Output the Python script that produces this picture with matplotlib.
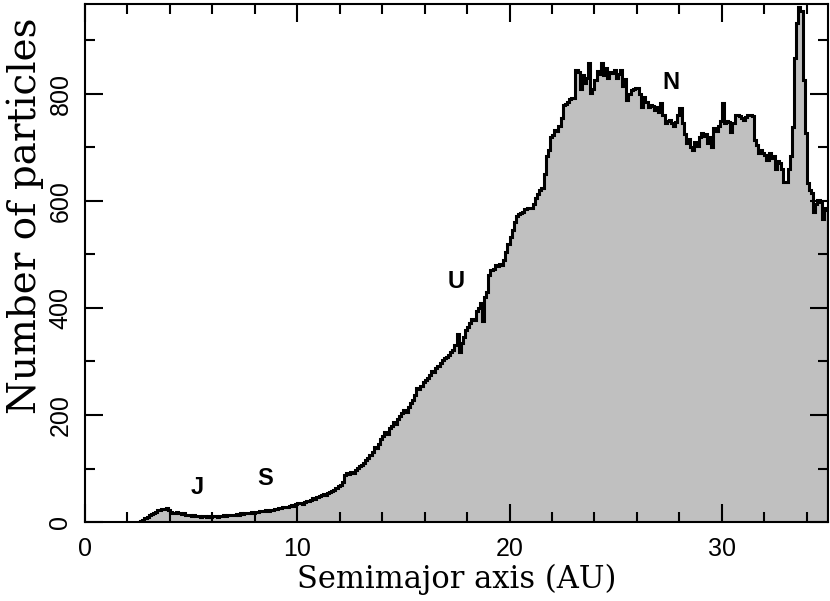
import matplotlib.pyplot as plt
import numpy as np

# histogram of semimajor axes, 0.1 AU bins starting at 2.5 AU
bin_start = 2.5
bin_width = 0.1
counts = [
    0, 2, 4, 7, 10,
    13, 15, 17, 19, 22, 23, 25, 24, 26, 22,
    19, 17, 16, 18, 17, 15, 16, 14, 13, 14,
    12, 13, 11, 12, 10, 11, 12, 10, 11, 10,
    11, 12, 10, 12, 12, 13, 11, 13, 14, 13,
    14, 15, 13, 16, 15, 17, 16, 17, 18, 17,
    19, 18, 20, 21, 20, 22, 21, 23, 22, 24,
    25, 27, 26, 28, 29, 28, 30, 31, 30, 33,
    35, 36, 34, 38, 40, 39, 42, 44, 43, 46,
    48, 50, 52, 51, 54, 56, 58, 60, 63, 67,
    70, 74, 88, 91, 90, 94, 92, 98, 101, 104,
    107, 110, 115, 120, 126, 131, 140, 138, 146, 155,
    160, 168, 165, 175, 180, 186, 183, 192, 198, 203,
    209, 206, 215, 222, 228, 238, 250, 248, 255, 262,
    266, 270, 275, 282, 280, 287, 292, 298, 302, 306,
    308, 312, 318, 321, 330, 352, 318, 335, 345, 358,
    365, 372, 380, 378, 395, 400, 409, 375, 420, 430,
    462, 470, 472, 480, 478, 482, 480, 490, 505, 520,
    533, 545, 560, 572, 575, 577, 580, 585, 586, 587,
    587, 595, 605, 612, 620, 625, 650, 683, 695, 720,
    724, 733, 730, 740, 755, 779, 782, 785, 790, 792,
    792, 845, 840, 810, 835, 820, 830, 857, 801, 810,
    825, 842, 838, 857, 836, 848, 830, 841, 839, 845,
    830, 838, 845, 815, 828, 789, 800, 807, 810, 811,
    811, 800, 776, 795, 785, 776, 780, 778, 770, 776,
    767, 783, 760, 745, 750, 752, 745, 740, 748, 760,
    773, 745, 725, 708, 715, 700, 695, 710, 702, 720,
    727, 722, 725, 708, 720, 701, 736, 730, 740, 750,
    783, 745, 750, 748, 729, 745, 760, 761, 758, 755,
    751, 757, 760, 761, 758, 714, 705, 689, 695, 690,
    685, 677, 690, 680, 683, 660, 675, 670, 660, 636,
    636, 660, 683, 739, 867, 932, 963, 954, 826, 726,
    633, 620, 614, 580, 595, 602, 598, 567, 586, 583,
]
edges = bin_start + bin_width * np.arange(len(counts) + 1)

planets = ['J', 'S', 'U', 'N']
planet_x = [5.3, 8.5, 17.5, 27.6]
planet_y = [64, 82, 450, 822]

fig = plt.figure(figsize=(8.3, 6.01), dpi=100)
ax = fig.add_axes([0.1024, 0.1314, 0.8952, 0.862])

ax.stairs(counts, edges, fill=True, color='#c0c0c0', lw=0)
ax.stairs(counts, edges, color='k', lw=2.2)

for name, px, py in zip(planets, planet_x, planet_y):
    ax.text(px, py, name, ha='center', va='center', fontsize=17,
            family='Liberation Sans', weight='bold')

ax.set_xlim(0, 35)
ax.set_ylim(0, 968)
ax.set_xticks([0, 10, 20, 30])
ax.set_xticks(np.arange(0, 35, 2), minor=True)
ax.set_yticks([0, 200, 400, 600, 800])
ax.set_yticks(np.arange(0, 968, 100), minor=True)
ax.tick_params(which='both', direction='in', top=True, right=True, width=1.5)
ax.tick_params(which='major', length=13, labelsize=18)
ax.tick_params(axis='x', which='major', pad=11)
ax.tick_params(axis='y', which='major', pad=9)
ax.tick_params(which='minor', length=7)
for lab in ax.get_xticklabels() + ax.get_yticklabels():
    lab.set_family('Liberation Sans')
for lab in ax.get_yticklabels():
    lab.set_rotation(90)
    lab.set_va('center')
for s in ax.spines.values():
    s.set_linewidth(1.5)

ax.set_xlabel('Semimajor axis (AU)', family='DejaVu Serif', fontsize=22, labelpad=2)
ax.set_ylabel('Number of particles', family='DejaVu Serif', fontsize=28)
ax.yaxis.set_label_coords(-0.081, 0.591)
ax.yaxis.label.set_va('center')

fig.savefig('out.png')
